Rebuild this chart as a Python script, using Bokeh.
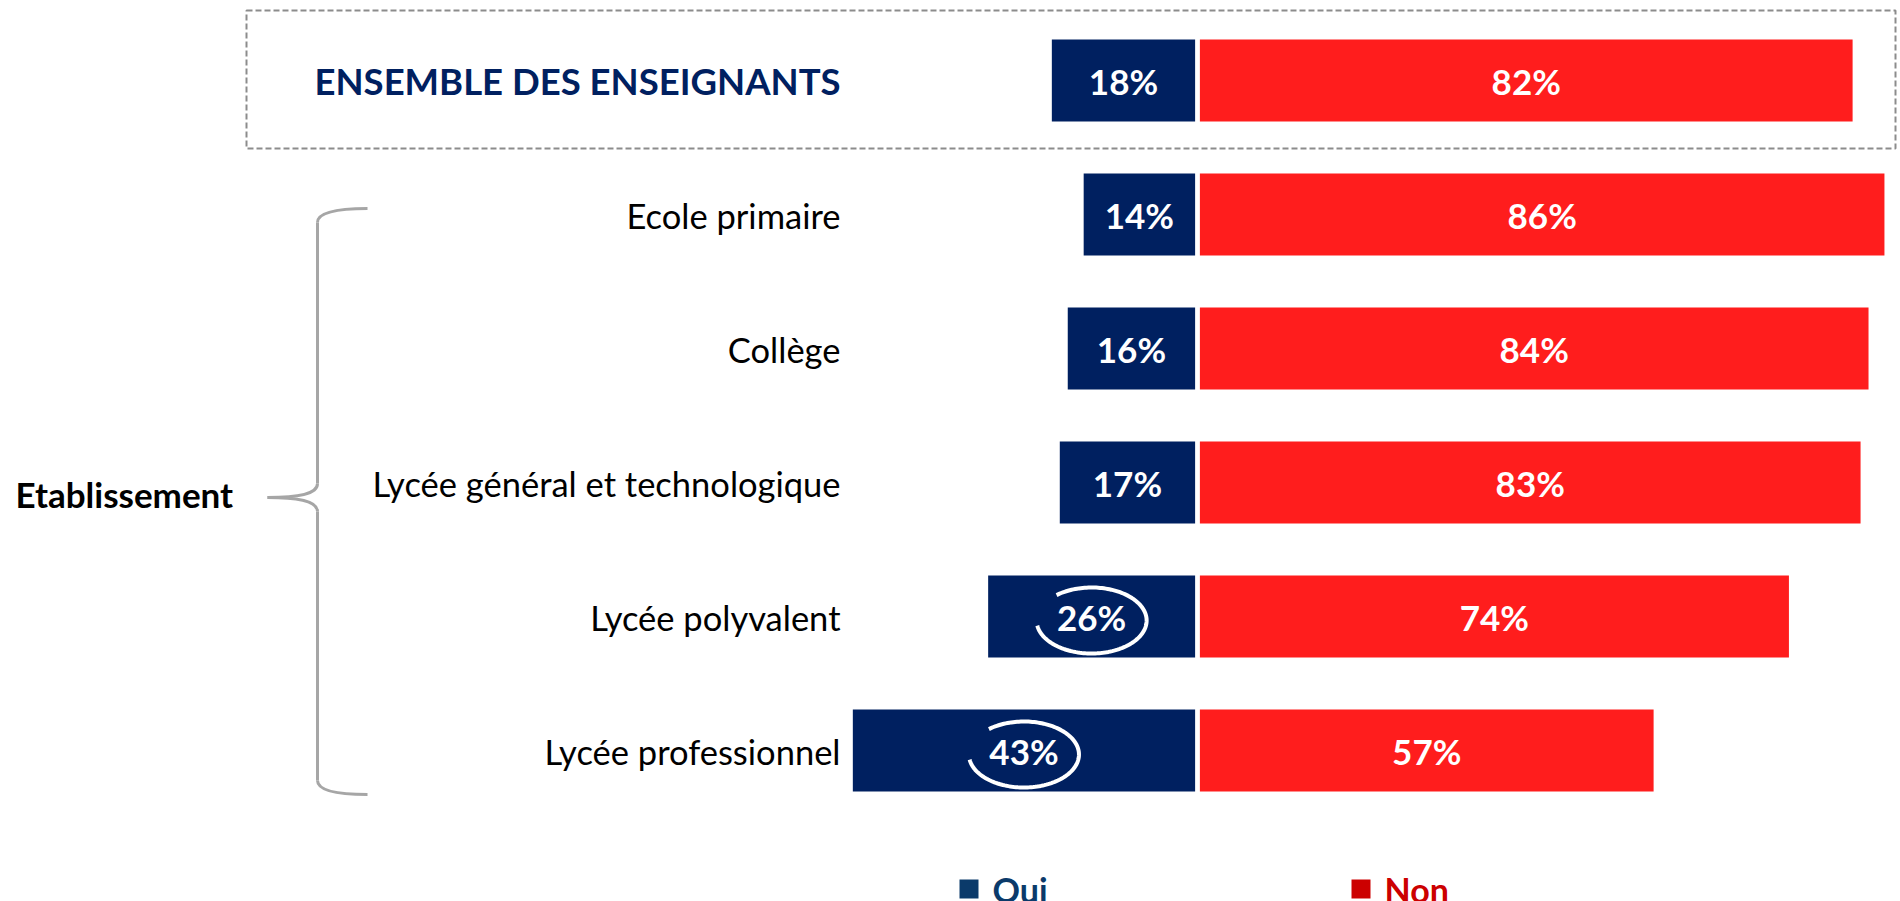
import numpy as np
from bokeh.plotting import figure
from bokeh.models import Range1d, ColumnDataSource
from bokeh.core.properties import value
from bokeh.embed import file_html
from bokeh.resources import INLINE

# ---------------- data ----------------
categories = ["ENSEMBLE DES ENSEIGNANTS", "Ecole primaire", "Collège",
              "Lycée général et technologique", "Lycée polyvalent",
              "Lycée professionnel"]
oui = [18, 14, 16, 17, 26, 43]
non = [82, 86, 84, 83, 74, 57]
circled_rows = [4, 5]
group_label = "Etablissement"
legend_labels = ["Oui", "Non"]

# ---------------- styles ----------------
NAVY = "#002060"
RED = "#FF1D1D"
LEG_BLUE = "#0B3A6A"
LEG_RED = "#CC0000"
GREY = "#A6A6A6"
FONT = "Lato"

W, H = 1900, 901
PX = 7.96      # pixels per percent
X0 = 1197      # pixel position of 0 %
ROW = 134      # pixels per row
Y0 = 80        # pixel position of the first row
GAP = 0.3
BAR_H = 0.612
TXT_DY = 0.5 / ROW

def dx(px):
    return (px - X0) / PX

def dy(py):
    return (py - Y0) / ROW

p = figure(width=W, height=H, output_backend="svg", toolbar_location=None,
           x_range=Range1d(dx(0), dx(W)), y_range=Range1d(dy(H), dy(0)),
           min_border=0)
p.axis.visible = False
p.grid.visible = False
p.outline_line_color = None
p.background_fill_color = "white"
p.border_fill_color = "white"

rows = list(range(len(categories)))
src = ColumnDataSource(dict(
    y=rows,
    ty=[r + TXT_DY for r in rows],
    oui_left=[-v - GAP for v in oui], oui_right=[-GAP] * len(oui),
    non_left=[GAP] * len(non), non_right=[v + GAP for v in non],
    oui_mid=[-v / 2 - GAP for v in oui], non_mid=[v / 2 + GAP for v in non],
    oui_txt=[f"{v}%" for v in oui], non_txt=[f"{v}%" for v in non],
))

# dashed frame around the overall row
p.quad(left=dx(246), right=dx(1895), top=dy(10), bottom=dy(148),
       fill_color=None, line_color="#8C8C8C", line_width=2, line_dash="6 3")

# bars
p.hbar(y="y", left="oui_left", right="oui_right", height=BAR_H,
       fill_color=NAVY, line_color=None, source=src)
p.hbar(y="y", left="non_left", right="non_right", height=BAR_H,
       fill_color=RED, line_color=None, source=src)

# value labels
for col in ("oui", "non"):
    p.text(x=col + "_mid", y="ty", text=col + "_txt", source=src,
           text_color="white", text_font=value(FONT), text_font_style="bold",
           text_font_size="35px", text_align="center", text_baseline="middle")

# category labels
cat_src = ColumnDataSource(dict(x=[dx(840)] * (len(categories) - 1),
                                y=[r + TXT_DY for r in rows[1:]],
                                t=categories[1:]))
p.text(x="x", y="y", text="t", source=cat_src, text_color="black",
       text_font=value(FONT), text_font_size="34.5px", text_align="right",
       text_baseline="middle")
p.text(x=[dx(840)], y=[rows[0] + TXT_DY], text=[categories[0]], text_color=NAVY,
       text_font=value(FONT), text_font_style="bold", text_font_size="36.5px",
       text_align="right", text_baseline="middle")

# group label and brace
p.text(x=[dx(15)], y=[dy(493)], text=[group_label], text_color="black",
       text_font=value(FONT), text_font_style="bold", text_font_size="35px",
       text_align="left", text_baseline="middle")
vx, top, bot, mid, tip, hook, r = 317, 208, 794, 497, 267, 367, 14
p.quadratic(x0=[dx(hook), dx(vx)], y0=[dy(top), dy(bot - r)],
            x1=[dx(vx), dx(hook)], y1=[dy(top + r), dy(bot)],
            cx=[dx(vx), dx(vx)], cy=[dy(top), dy(bot)],
            line_color=GREY, line_width=3)
p.segment(x0=[dx(vx), dx(vx)], y0=[dy(top + r), dy(mid + r)],
          x1=[dx(vx), dx(vx)], y1=[dy(mid - r), dy(bot - r)],
          line_color=GREY, line_width=3)
p.bezier(x0=[dx(vx), dx(tip)], y0=[dy(mid - r), dy(mid)],
         x1=[dx(tip), dx(vx)], y1=[dy(mid), dy(mid + r)],
         cx0=[dx(vx), dx(vx - 20)], cy0=[dy(mid - 3), dy(mid)],
         cx1=[dx(vx - 20), dx(vx)], cy1=[dy(mid), dy(mid + 3)],
         line_color=GREY, line_width=3)

# open circles around highlighted values
a = 55 / PX
b = 33 / ROW
theta = np.radians(np.linspace(-171, 129.6, 150))
xs, ys = [], []
for rI in circled_rows:
    cx = -oui[rI] / 2 - GAP
    cy = rI + 4 / ROW
    xs.append(list(cx + a * np.cos(theta)))
    ys.append(list(cy - b * np.sin(theta)))
p.multi_line(xs=xs, ys=ys, line_color="white", line_width=4)

# legend
p.scatter(x=[dx(968.5), dx(1360.5)], y=[dy(888.5)] * 2, marker="square",
          size=19, fill_color=[LEG_BLUE, LEG_RED], line_color=None)
p.text(x=[dx(992), dx(1384)], y=[dy(889)] * 2, text=legend_labels,
       text_color=[LEG_BLUE, LEG_RED], text_font=value(FONT),
       text_font_style="bold", text_font_size="34px", text_align="left",
       text_baseline="middle")

open("out.html", "w").write(file_html(p, INLINE))
